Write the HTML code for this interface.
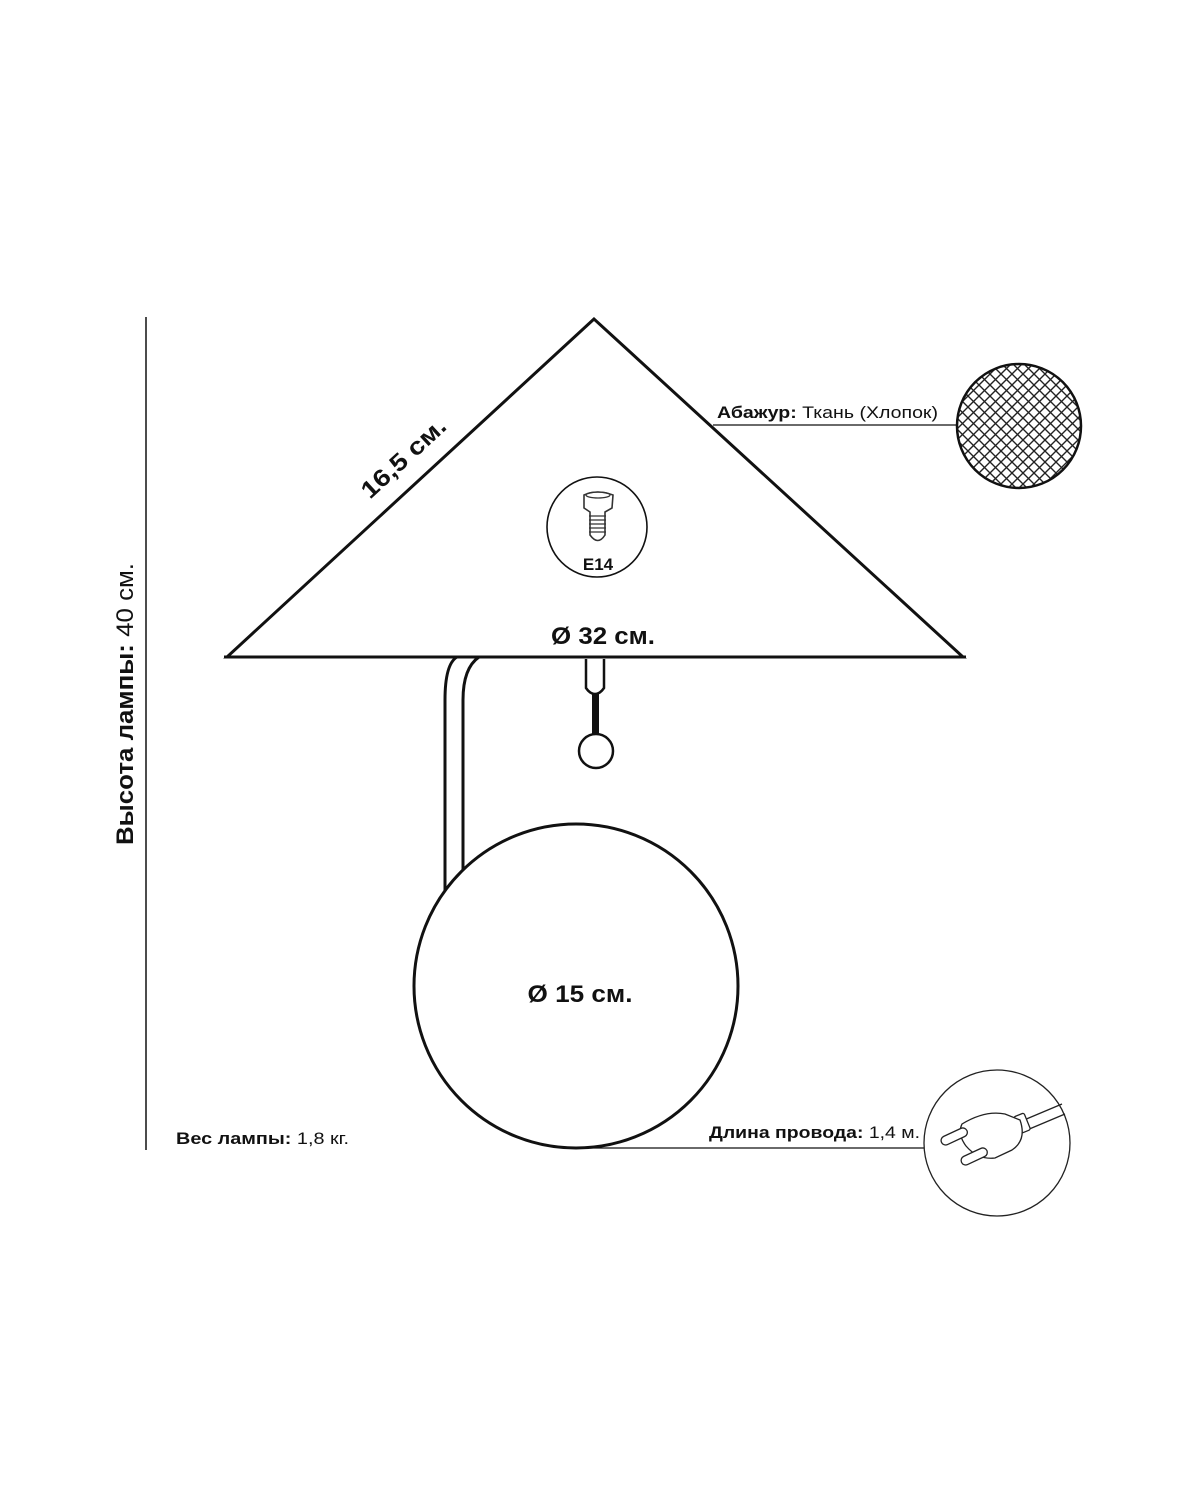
<!DOCTYPE html>
<html><head><meta charset="utf-8"><style>
html,body{margin:0;padding:0;background:#fff;}
svg{display:block;}
text{font-family:"Liberation Sans",sans-serif;fill:#111;}
</style></head><body>
<svg width="1200" height="1500" viewBox="0 0 1200 1500" xmlns="http://www.w3.org/2000/svg">
<defs>
<pattern id="hatch" width="11" height="11" patternUnits="userSpaceOnUse">
<path d="M0,0 L11,11 M11,0 L0,11" stroke="#222" stroke-width="1.4"/>
</pattern>
<clipPath id="hc"><circle cx="1019" cy="426" r="62"/></clipPath>
</defs>
<line x1="146" y1="317" x2="146" y2="1150" stroke="#111" stroke-width="1.5"/>
<text transform="translate(133,704) rotate(-90)" text-anchor="middle" font-size="24" textLength="282" lengthAdjust="spacingAndGlyphs"><tspan font-weight="bold">Высота лампы:</tspan> 40 см.</text>

<path d="M445,895 L445,700 Q445,664 457,657" fill="none" stroke="#111" stroke-width="3"/>
<path d="M463,875 L463,700 Q463,668 479,657" fill="none" stroke="#111" stroke-width="3"/>

<path d="M594,319 L227,657 L963,657 Z" fill="#fff" stroke="#111" stroke-width="3"/>
<line x1="224" y1="657" x2="966" y2="657" stroke="#111" stroke-width="3"/>
<text transform="translate(409,464) rotate(-42.6)" text-anchor="middle" font-size="24" font-weight="bold" textLength="106" lengthAdjust="spacingAndGlyphs">16,5 см.</text>

<circle cx="597" cy="527" r="50" fill="#fff" stroke="#111" stroke-width="1.6"/>
<path d="M584,495 Q597,489 613,495 L612,508 L605,512 L605,535 Q598,546 590,535 L590,512 L584,508 Z" fill="#fff" stroke="#333" stroke-width="1.6"/>
<ellipse cx="598" cy="495" rx="12" ry="3" fill="none" stroke="#333" stroke-width="1.3"/>
<path d="M589,516 L606,516 M589,520 L606,520 M589,524 L606,524 M589,528 L606,528 M589,532 L606,532" stroke="#333" stroke-width="1.2"/>
<text x="598" y="570" text-anchor="middle" font-size="17" font-weight="bold">E14</text>

<text x="603" y="644" text-anchor="middle" font-size="24" font-weight="bold" textLength="104" lengthAdjust="spacingAndGlyphs">Ø 32 см.</text>

<path d="M586,659 L586,688 Q590,694 595,694 Q600,694 604,688 L604,659" fill="#fff" stroke="#111" stroke-width="2.5"/>
<rect x="592" y="693" width="7" height="44" fill="#111"/>
<circle cx="596" cy="751" r="17" fill="#fff" stroke="#111" stroke-width="2.5"/>

<circle cx="576" cy="986" r="162" fill="#fff" stroke="#111" stroke-width="3"/>
<text x="580" y="1002" text-anchor="middle" font-size="24" font-weight="bold" textLength="105" lengthAdjust="spacingAndGlyphs">Ø 15 см.</text>

<text x="717" y="418" font-size="17" textLength="221" lengthAdjust="spacingAndGlyphs"><tspan font-weight="bold">Абажур:</tspan> Ткань (Хлопок)</text>
<line x1="713" y1="425" x2="957" y2="425" stroke="#111" stroke-width="1.3"/>
<g clip-path="url(#hc)"><rect x="950" y="360" width="140" height="135" fill="url(#hatch)"/></g>
<circle cx="1019" cy="426" r="62" fill="none" stroke="#111" stroke-width="2.5"/>

<text x="176" y="1144" font-size="17" textLength="173" lengthAdjust="spacingAndGlyphs"><tspan font-weight="bold">Вес лампы:</tspan> 1,8 кг.</text>

<text x="709" y="1138" font-size="17" textLength="211" lengthAdjust="spacingAndGlyphs"><tspan font-weight="bold">Длина провода:</tspan> 1,4 м.</text>
<line x1="590" y1="1148" x2="924" y2="1148" stroke="#111" stroke-width="1.3"/>
<circle cx="997" cy="1143" r="73" fill="#fff" stroke="#222" stroke-width="1.3"/>
<g fill="#fff" stroke="#222" stroke-width="1.3">
<path d="M1024,1120 L1062,1104 M1027,1130 L1065,1114"/>
<rect x="1017" y="1114" width="11" height="18" rx="2" transform="rotate(-22 1023 1124)"/>
<path d="M962,1124 Q985,1110 1005,1114 L1020,1120 Q1027,1140 1012,1150 L995,1158 Q978,1160 966,1146 Q957,1134 962,1124 Z"/>
<rect x="940" y="1132" width="28" height="9" rx="4.5" transform="rotate(-25 954 1136)"/>
<rect x="960" y="1152" width="28" height="9" rx="4.5" transform="rotate(-25 974 1156)"/>
</g>
</svg>
</body></html>
